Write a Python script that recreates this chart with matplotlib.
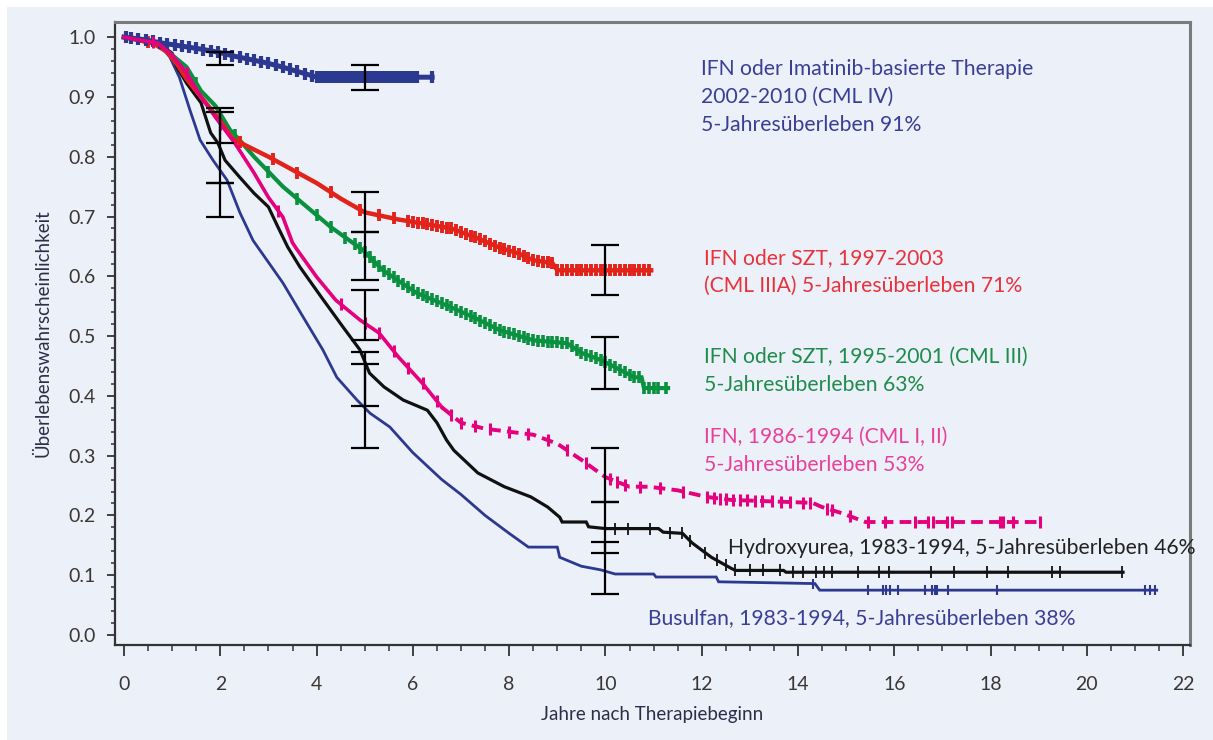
import matplotlib
matplotlib.use("Agg")
import matplotlib.pyplot as plt
from matplotlib.patches import Rectangle
import numpy as np

plt.rcParams['font.family'] = ['Lato', 'DejaVu Sans']

NAVY = '#2b3990'
RED = '#e2231a'
GREEN = '#0a9140'
PINK = '#e5007e'
BLACK = '#111111'
BG = '#ecf0f8'

# IFN oder Imatinib, CML IV
cml4_t = [0, 0.4, 0.8, 1.2, 1.6, 2.0, 2.3, 2.6, 2.9, 3.2, 3.5, 3.8, 4.0, 6.4]
cml4_s = [1.0, 0.996, 0.99, 0.985, 0.98, 0.974, 0.968, 0.963, 0.958, 0.952, 0.945, 0.938, 0.933, 0.933]
cml4_cens = [0.05, 0.15, 0.3, 0.45, 0.6, 0.75, 0.9, 1.05, 1.2, 1.35, 1.5, 1.65, 1.8, 1.95, 2.1,
             2.25, 2.4, 2.55, 2.7, 2.85, 3.0, 3.15, 3.3, 3.45, 3.6, 3.75, 3.9, 4.0, 4.08, 4.16,
             4.24, 4.32, 4.4, 4.48, 4.56, 4.64, 4.72, 4.8, 4.88, 4.96, 5.04, 5.12, 5.2, 5.28,
             5.36, 5.44, 5.52, 5.6, 5.68, 5.76, 5.84, 5.92, 6.0, 6.08, 6.4]

# IFN oder SZT, CML IIIA
cml3a_t = [0, 0.6, 0.9, 1.1, 1.3, 1.6, 2.0, 2.25, 2.5, 3.0, 3.5, 4.0, 4.5, 5.0, 5.7, 6.3,
           6.8, 7.3, 7.8, 8.2, 8.5, 8.9, 9.0, 10.95]
cml3a_s = [1.0, 0.99, 0.975, 0.955, 0.93, 0.9, 0.86, 0.83, 0.82, 0.8, 0.778, 0.756, 0.73,
           0.707, 0.695, 0.687, 0.68, 0.665, 0.648, 0.638, 0.627, 0.622, 0.61, 0.61]
cml3a_cens = [0.5, 2.4, 3.1, 3.6, 4.3, 4.9, 5.3, 5.6, 5.9, 6.0, 6.1, 6.2, 6.3, 6.4, 6.5, 6.6,
              6.7, 6.8, 6.9, 7.0, 7.1, 7.2, 7.3, 7.4, 7.5, 7.6, 7.7, 7.8, 7.9, 8.0, 8.1, 8.2,
              8.3, 8.4, 8.5, 8.6, 8.7, 8.8, 8.9, 9.0, 9.1, 9.2, 9.3, 9.4, 9.5, 9.6, 9.7, 9.8,
              9.9, 10.0, 10.1, 10.2, 10.3, 10.4, 10.5, 10.6, 10.7, 10.8, 10.9]

# IFN oder SZT, CML III
cml3_t = [0, 0.7, 1.0, 1.3, 1.6, 1.9, 2.2, 2.4, 2.7, 3.0, 3.3, 3.8, 4.3, 4.96, 5.38, 6.08,
          6.77, 7.3, 7.8, 8.5, 9.2, 9.5, 9.9, 10.2, 10.6, 10.75, 10.8, 11.3]
cml3_s = [1.0, 0.99, 0.97, 0.95, 0.91, 0.885, 0.845, 0.828, 0.8, 0.775, 0.75, 0.716, 0.682,
          0.644, 0.61, 0.572, 0.549, 0.53, 0.51, 0.493, 0.488, 0.472, 0.46, 0.448, 0.431,
          0.431, 0.413, 0.413]
cml3_cens = [1.5, 2.3, 3.0, 3.6, 4.0, 4.3, 4.6, 4.8, 4.9, 5.0, 5.1, 5.2, 5.3, 5.4, 5.5, 5.6,
             5.7, 5.8, 5.9, 6.0, 6.1, 6.2, 6.3, 6.4, 6.5, 6.6, 6.7, 6.8, 6.9, 7.0, 7.1, 7.2,
             7.3, 7.4, 7.5, 7.6, 7.7, 7.8, 7.9, 8.0, 8.1, 8.2, 8.3, 8.4, 8.5, 8.6, 8.7, 8.8,
             8.9, 9.0, 9.1, 9.2, 9.3, 9.4, 9.5, 9.6, 9.7, 9.8, 9.9, 10.0, 10.1, 10.2, 10.3,
             10.4, 10.5, 10.6, 10.7, 10.8, 10.9, 11.0, 11.1, 11.25]

# IFN, CML I, II
cml12_t = [0, 0.7, 1.0, 1.3, 1.6, 1.9, 2.3, 2.7, 3.0, 3.3, 3.5, 3.6, 4.0, 4.4, 4.9, 5.3,
           5.7, 6.2, 6.6, 7.0, 7.5, 8.0, 8.5, 9.0, 9.5, 10.0, 10.5, 10.9, 11.5, 12.1, 12.6,
           14.3, 14.5, 14.9, 15.4, 19.0]
cml12_s = [1.0, 0.99, 0.97, 0.94, 0.9, 0.866, 0.823, 0.773, 0.732, 0.699, 0.656, 0.644,
           0.599, 0.56, 0.527, 0.505, 0.465, 0.421, 0.381, 0.355, 0.345, 0.34, 0.335, 0.32,
           0.293, 0.264, 0.248, 0.248, 0.242, 0.231, 0.226, 0.221, 0.214, 0.204, 0.189, 0.189]
cml12_cens = [0.6, 1.3, 2.0, 3.2, 4.5, 5.0, 5.3, 5.6, 5.9, 6.2, 6.5, 6.8, 7.0, 7.3, 7.6, 8.0,
              8.4, 8.8, 9.2, 9.6, 10.1, 10.25, 10.4, 10.72, 11.13, 11.61, 12.1, 12.25,
              12.38, 12.5, 12.65, 12.8, 12.94, 13.1, 13.25, 13.46, 13.65, 13.83, 14.1, 14.25,
              14.6, 14.7, 15.08, 15.45, 15.8, 16.43, 16.7, 16.8, 17.1, 17.2, 18.2, 18.26,
              18.46, 19.02]

# Hydroxyurea
hu_t = [0, 0.8, 1.0, 1.1, 1.3, 1.6, 1.8, 1.95, 2.1, 2.4, 2.7, 3.0, 3.2, 3.4, 3.65, 4.1,
        4.55, 4.9, 5.1, 5.4, 5.8, 6.3, 6.5, 6.7, 6.85, 7.35, 7.9, 8.45, 8.8, 9.05, 9.1, 9.6,
        9.65, 10.0, 11.1, 11.2, 11.6, 11.8, 12.2, 12.6, 12.7, 13.7, 13.75, 20.75]
hu_s = [1.0, 0.985, 0.973, 0.95, 0.923, 0.89, 0.84, 0.823, 0.794, 0.766, 0.739, 0.716,
        0.682, 0.649, 0.616, 0.565, 0.515, 0.477, 0.438, 0.415, 0.393, 0.376, 0.355, 0.326,
        0.309, 0.271, 0.248, 0.231, 0.214, 0.197, 0.189, 0.189, 0.181, 0.178, 0.178, 0.172,
        0.17, 0.154, 0.13, 0.112, 0.108, 0.108, 0.105, 0.105]
hu_cens = [10.2, 10.47, 10.92, 11.34, 11.6, 11.76, 12.07, 12.31, 12.5, 12.69, 13.0, 13.28,
           13.62, 13.9, 14.1, 14.37, 14.54, 14.7, 15.24, 15.68, 15.89, 16.76, 17.24, 17.92,
           18.36, 19.27, 19.44, 20.73]

# Busulfan
bu_t = [0, 0.7, 0.95, 1.15, 1.37, 1.58, 1.85, 2.14, 2.41, 2.68, 2.82, 3.3, 3.72, 4.13, 4.42,
        4.84, 5.11, 5.52, 6.0, 6.6, 7.0, 7.5, 8.0, 8.4, 9.0, 9.05, 9.5, 9.9, 10.2, 11.0,
        11.05, 12.3, 12.35, 14.35, 14.45, 21.45]
bu_s = [1.0, 0.99, 0.967, 0.933, 0.878, 0.828, 0.794, 0.761, 0.706, 0.66, 0.644, 0.589,
        0.532, 0.477, 0.431, 0.393, 0.371, 0.348, 0.305, 0.26, 0.235, 0.2, 0.17, 0.147, 0.147,
        0.13, 0.115, 0.109, 0.102, 0.102, 0.097, 0.097, 0.089, 0.086, 0.075, 0.075]
bu_cens = [14.31, 15.45, 15.76, 15.82, 15.9, 16.07, 16.64, 16.78, 16.84, 16.88, 17.11, 18.13,
           21.2, 21.3, 21.41]

# 95%-Konfidenzintervalle
err_x = [2, 2, 2, 2, 5, 5, 5, 5, 5, 5, 10, 10, 10, 10, 10]
err_lo = [0.953, 0.823, 0.756, 0.70, 0.911, 0.674, 0.593, 0.493, 0.383, 0.313,
          0.568, 0.411, 0.222, 0.137, 0.068]
err_hi = [0.975, 0.881, 0.875, 0.756, 0.953, 0.741, 0.674, 0.577, 0.473, 0.453,
          0.652, 0.498, 0.313, 0.222, 0.156]


fig = plt.figure(figsize=(12.13, 7.40), dpi=100)
fig.patch.set_facecolor('white')
fig.patches.append(Rectangle((7 / 1213, 0), 1, 733 / 740, transform=fig.transFigure,
                             facecolor=BG, edgecolor='none', zorder=-10))
ax = fig.add_axes([0.0948, 0.1284, 0.8862, 0.8416])
ax.set_facecolor(BG)

curves = [
    (bu_t, bu_s, bu_cens, NAVY, 2.0, 7, 1.5),
    (hu_t, hu_s, hu_cens, BLACK, 2.3, 8, 1.3),
    (cml3_t, cml3_s, cml3_cens, GREEN, 3.0, 8, 2.6),
    (cml3a_t, cml3a_s, cml3a_cens, RED, 3.2, 8, 2.8),
    (cml4_t, cml4_s, cml4_cens, NAVY, 3.6, 8, 3.0),
]
for t, s, cens, col, lw, ms, mew in curves:
    ax.plot(t, s, color=col, lw=lw, zorder=3, solid_joinstyle='miter')
    ax.plot(cens, np.interp(cens, t, s), ls='none', marker='|', ms=ms, mew=mew,
            color=col, zorder=3)

# IFN CML I, II: solid first, dashed tail
t12 = np.array(cml12_t)
s12 = np.array(cml12_s)
cut = np.searchsorted(t12, 6.6)
ax.plot(t12[:cut + 1], s12[:cut + 1], color=PINK, lw=2.6, zorder=3)
ax.plot(t12[cut:], s12[cut:], color=PINK, lw=2.8, ls=(0, (3, 1.6)), zorder=3)
ax.plot(cml12_cens, np.interp(cml12_cens, t12, s12), ls='none', marker='|', ms=9, mew=2.2,
        color=PINK, zorder=3)

err_x = np.array(err_x)
err_lo = np.array(err_lo)
err_hi = np.array(err_hi)
mid = (err_lo + err_hi) / 2
ax.errorbar(err_x, mid, yerr=[mid - err_lo, err_hi - mid], fmt='none', ecolor='black',
            elinewidth=1.6, capsize=10, capthick=1.6, zorder=5)

# labels
fs = 15.2
ls = 1.48
ax.text(11.98, 0.90, 'IFN oder Imatinib-basierte Therapie\n2002-2010 (CML IV)\n5-Jahresüberleben 91%',
        color='#3a3f96', fontsize=fs, va='center', ha='left', linespacing=ls)
ax.text(12.05, 0.607, 'IFN oder SZT, 1997-2003\n(CML IIIA) 5-Jahresüberleben 71%',
        color='#e8323c', fontsize=fs, va='center', ha='left', linespacing=ls)
ax.text(12.05, 0.442, 'IFN oder SZT, 1995-2001 (CML III)\n5-Jahresüberleben 63%',
        color='#1f8c4b', fontsize=fs, va='center', ha='left', linespacing=ls)
ax.text(12.05, 0.308, 'IFN, 1986-1994 (CML I, II)\n5-Jahresüberleben 53%',
        color='#e8419b', fontsize=fs, va='center', ha='left', linespacing=ls)
ax.text(12.55, 0.146, 'Hydroxyurea, 1983-1994, 5-Jahresüberleben 46%',
        color='#222222', fontsize=fs, va='center', ha='left', clip_on=False)
ax.text(10.88, 0.028, 'Busulfan, 1983-1994, 5-Jahresüberleben 38%',
        color='#3a3f96', fontsize=fs, va='center', ha='left')

ax.set_xlim(-0.187, 22.14)
ax.set_ylim(-0.0167, 1.025)
ax.set_xticks(np.arange(0, 23, 2))
ax.set_xticks(np.arange(0, 22.01, 0.5), minor=True)
ax.set_yticks(np.arange(0, 1.01, 0.1))
ax.set_yticklabels([f'{v:.1f}' for v in np.arange(0, 1.01, 0.1)])
ax.set_yticks(np.arange(0, 1.001, 0.02), minor=True)
ax.tick_params(axis='both', which='major', labelsize=14, labelcolor='#3b3632',
               color='#333333', width=1.3, direction='out')
ax.tick_params(axis='x', which='major', length=8, pad=14)
ax.tick_params(axis='y', which='major', length=6, pad=8)
ax.tick_params(axis='x', which='minor', length=4, width=1.1, color='#333333')
ax.tick_params(axis='y', which='minor', length=3, width=1.1, color='#333333')

for side in ['left', 'bottom']:
    ax.spines[side].set_color('#333333')
    ax.spines[side].set_linewidth(1.6)
for side in ['top', 'right']:
    ax.spines[side].set_color('#7a7a7a')
    ax.spines[side].set_linewidth(2.2)

ax.set_xlabel('Jahre nach Therapiebeginn', fontsize=13.5, color='#2d2d4a', labelpad=10)
ax.set_ylabel('Überlebenswahrscheinlichkeit', fontsize=13.5, color='#2d2d4a', labelpad=12)

fig.savefig('out.png', dpi=100, facecolor=fig.get_facecolor())
